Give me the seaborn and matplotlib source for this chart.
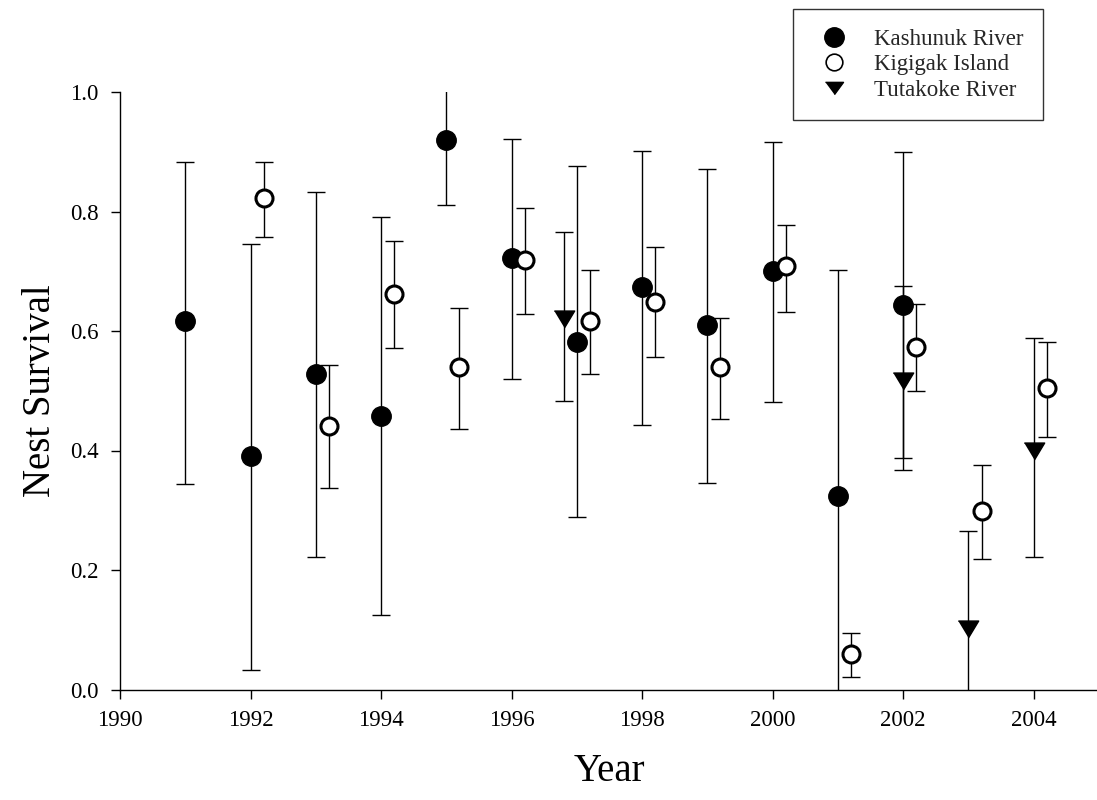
import numpy as np
import matplotlib
matplotlib.use("Agg")
import matplotlib.pyplot as plt
from matplotlib.lines import Line2D
import seaborn as sns

# Nest survival estimates with 95% confidence limits
kash_years = [1991, 1992, 1993, 1994, 1995, 1996, 1997, 1998, 1999, 2000, 2001, 2002]
kash_est = [0.616, 0.391, 0.528, 0.458, 0.920, 0.722, 0.582, 0.674, 0.610, 0.701, 0.324, 0.644]
kash_lo = [0.344, 0.033, 0.221, 0.124, 0.811, 0.519, 0.288, 0.442, 0.346, 0.482, -0.054, 0.387]
kash_hi = [0.883, 0.746, 0.833, 0.791, 1.029, 0.921, 0.876, 0.902, 0.871, 0.917, 0.702, 0.899]

kigi_years = [1992, 1993, 1994, 1995, 1996, 1997, 1998, 1999, 2000, 2001, 2002, 2003, 2004]
kigi_est = [0.822, 0.441, 0.662, 0.539, 0.719, 0.617, 0.649, 0.539, 0.708, 0.059, 0.574, 0.298, 0.504]
kigi_lo = [0.758, 0.337, 0.572, 0.436, 0.629, 0.528, 0.556, 0.453, 0.631, 0.021, 0.500, 0.218, 0.423]
kigi_hi = [0.883, 0.543, 0.751, 0.638, 0.806, 0.702, 0.741, 0.621, 0.777, 0.094, 0.645, 0.376, 0.581]

tuta_years = [1997, 2002, 2003, 2004]
tuta_est = [0.620, 0.517, 0.101, 0.400]
tuta_lo = [0.483, 0.367, -0.060, 0.221]
tuta_hi = [0.766, 0.675, 0.265, 0.589]

# horizontal dodge so overlapping sites stay readable
kash_shift = [0.0] * len(kash_years)
kigi_shift = [0.2] * len(kigi_years)
tuta_shift = [-0.2, 0.0, 0.0, 0.0]

x_ticks = [1990, 1992, 1994, 1996, 1998, 2000, 2002, 2004]
y_ticks = [0.0, 0.2, 0.4, 0.6, 0.8, 1.0]

sns.set_theme(style="ticks")
plt.rcParams["font.family"] = ["Liberation Serif", "DejaVu Serif"]

fig = plt.figure(figsize=(10.97, 8.0), dpi=100)
ax = fig.add_axes([120 / 1097, 110.5 / 800, 979 / 1097, 597.5 / 800])

tri = [(-1.0, 0.83), (1.0, 0.83), (0.0, -0.83)]

series = [
    (kash_years, kash_shift, kash_est, kash_lo, kash_hi,
     dict(marker="o", s=196, color="black", edgecolor="black", linewidth=1.0)),
    (kigi_years, kigi_shift, kigi_est, kigi_lo, kigi_hi,
     dict(marker="o", s=150, color="white", edgecolor="black", linewidth=2.2)),
    (tuta_years, tuta_shift, tuta_est, tuta_lo, tuta_hi,
     dict(marker=tri, s=215, color="black", edgecolor="black", linewidth=1.0)),
]

z = 2
for yrs, shift, est, lo, hi, style in series:
    xs = np.array(yrs, dtype=float) + np.array(shift)
    est = np.array(est)
    err = [est - np.array(lo), np.array(hi) - est]
    ax.errorbar(xs, est, yerr=err, fmt="none", ecolor="black",
                elinewidth=1.0, capsize=6.5, capthick=1.0, zorder=z)
    sns.scatterplot(x=xs, y=est, ax=ax, zorder=z + 1, legend=False, **style)
    z += 2

ax.set_xlim(1990, 2005)
ax.set_ylim(0.0, 1.0)
ax.set_xticks(x_ticks)
ax.set_yticks(y_ticks)
ax.set_xticklabels([str(v) for v in x_ticks])
ax.set_yticklabels([f"{v:.1f}" for v in y_ticks])
ax.tick_params(axis="both", direction="out", length=6.5, width=1.0,
               colors="black", labelsize=16.5)
ax.tick_params(axis="x", pad=8)
ax.tick_params(axis="y", pad=9)

for side in ("top", "right"):
    ax.spines[side].set_visible(False)
for side in ("left", "bottom"):
    ax.spines[side].set_color("black")
    ax.spines[side].set_linewidth(1.0)
    ax.spines[side].set_clip_on(False)

ax.set_xlabel("Year", fontsize=28, color="black", labelpad=16)
ax.set_ylabel("Nest Survival", fontsize=28, color="black", labelpad=8)

handles = [
    Line2D([], [], linestyle="none", marker="o", markersize=14,
           markerfacecolor="black", markeredgecolor="black", markeredgewidth=1.0),
    Line2D([], [], linestyle="none", marker="o", markersize=12,
           markerfacecolor="white", markeredgecolor="black", markeredgewidth=1.2),
    Line2D([], [], linestyle="none", marker=[(-1.0, 0.68), (1.0, 0.68), (0.0, -0.68)],
           markersize=13, markerfacecolor="black", markeredgecolor="black",
           markeredgewidth=1.0),
]
labels = ["Kashunuk River", "Kigigak Island", "Tutakoke River"]
leg = fig.legend(handles, labels, loc="upper left",
                 bbox_to_anchor=(793 / 1097, 1 - 9 / 800),
                 bbox_transform=fig.transFigure, borderaxespad=0.0,
                 fontsize=16.5, frameon=True, fancybox=False,
                 borderpad=0.85, handlelength=1.9, handletextpad=0.8,
                 labelspacing=0.2)
frame = leg.get_frame()
frame.set_edgecolor("#333333")
frame.set_linewidth(1.0)
frame.set_facecolor("white")
frame.set_alpha(1.0)

fig.savefig("out.png", dpi=100, facecolor="white")
